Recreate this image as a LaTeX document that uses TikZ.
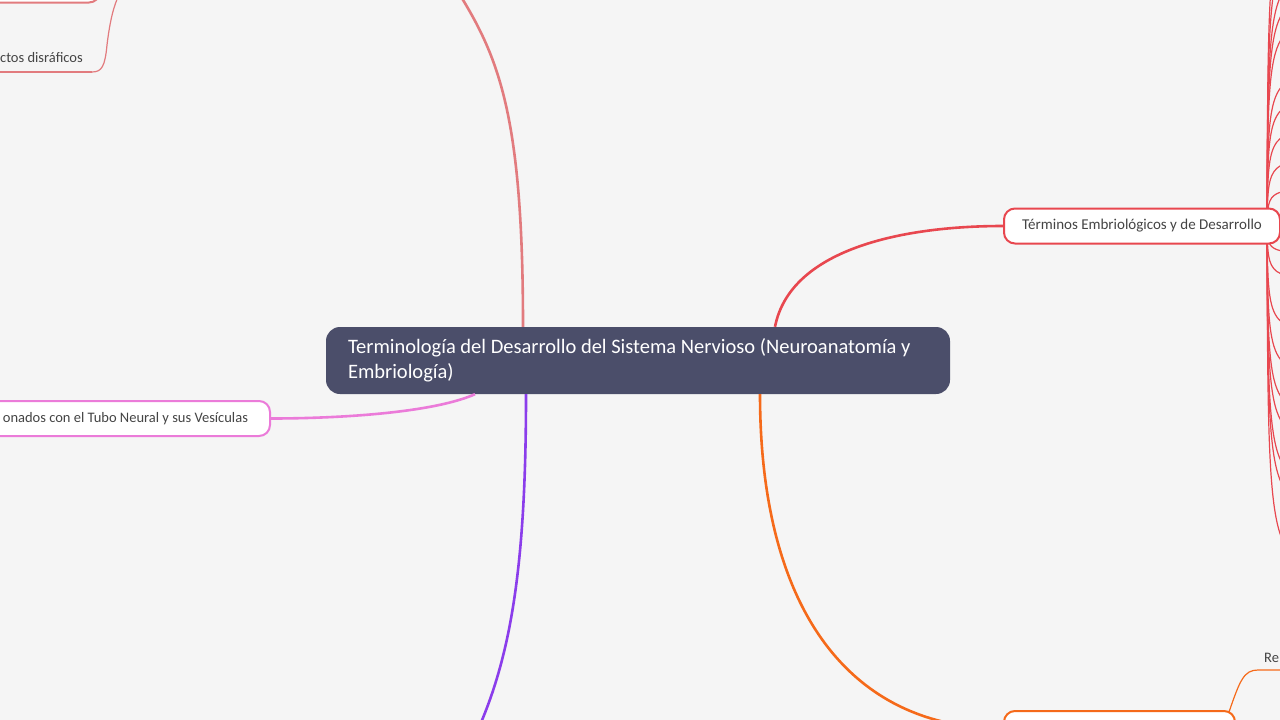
\documentclass[tikz,border=0pt]{standalone}
\usepackage{fontspec}
\setmainfont{Carlito}
\usetikzlibrary{positioning}
\definecolor{bgcol}{HTML}{F5F5F5}
\definecolor{rootcol}{HTML}{4B4E6A}
\definecolor{textgray}{HTML}{444444}
\definecolor{salmoncol}{HTML}{E27B7E}
\definecolor{pinkcol}{HTML}{EB7BD9}
\definecolor{purplecol}{HTML}{8B3DEB}
\definecolor{redcol}{HTML}{E8474F}
\definecolor{orangecol}{HTML}{F56A1A}

\begin{document}
\begin{tikzpicture}[x=1pt,y=-1pt,
root/.style={rectangle, rounded corners=14pt, fill=rootcol, text=white,
  text width=580pt, align=flush left, inner xsep=22pt, minimum height=67pt,
  font=\fontsize{20.5}{25}\selectfont},
branch/.style={rectangle, rounded corners=11pt, fill=white, line width=2pt,
  minimum height=35pt, inner xsep=18pt, text=textgray,
  font=\fontsize{15}{17}\selectfont},
leaf/.style={inner sep=0pt, text=textgray, font=\fontsize{14.5}{17}\selectfont},
link/.style={line width=2.6pt},
twig/.style={line width=1.2pt}]

\useasboundingbox (0,0) rectangle (1280,720);
\fill[bgcol] (0,0) rectangle (1280,720);

\coordinate (fan) at (1267,226);
\foreach \y in {-100,-60,-25,-3,23,75,100,130,160,189,253,278,330,372,412,438,482,505,564}
  \draw[twig, redcol] (fan) .. controls (1268,\y) and (1268,\y) .. (1340,\y);

\node[root] (root) at (638,360.5) {Terminología del Desarrollo del Sistema Nervioso (Neuroanatomía y\\Embriología)};

\node[branch, draw=redcol, minimum width=276pt] (term) at (1142,226) {Términos Embriológicos y de Desarrollo};
\node[branch, draw=pinkcol, anchor=east, text width=300pt, align=flush right, inner xsep=22pt,
  font=\fontsize{14.5}{17}\selectfont] (tubo) at (271,418.5) {onados con el Tubo Neural y sus Vesículas};
\node[branch, draw=orangecol, minimum width=231pt] (emb) at (1119.5,728.5) {};
\node[branch, draw=salmoncol, minimum width=300pt, anchor=south east] (malf) at (101,3.5) {};

\node[leaf, anchor=east] (dis) at (83,58) {ctos disráficos};
\node[leaf, anchor=south west] (re) at (1264,663) {Re};

\coordinate (top) at (460,-5);
\coordinate (bottom) at (480,725);
\coordinate (disr) at (92,72);
\coordinate (disup) at (119,-5);
\coordinate (rer) at (1258,670);

\draw[link, salmoncol] ([xshift=-115pt]root.north) .. controls (523,120) and (500,60) .. (top);
\draw[link, pinkcol] ([xshift=-163pt]root.south) .. controls (430,414) and (330,418.5) .. (tubo.east);
\draw[link, purplecol] ([xshift=-112pt]root.south) .. controls (526,560) and (512,650) .. (bottom);
\draw[link, redcol] ([xshift=137pt]root.north) .. controls (790,250) and (900,226) .. (term.west);
\draw[link, orangecol] ([xshift=122pt]root.south) .. controls (760,610) and (850,728.5) .. (emb.west);

\draw[twig, salmoncol] (disr) -- ++(-100,0);
\draw[twig, salmoncol] (disr) .. controls (102,72) and (105,66) .. (107,45) .. controls (110,20) and (114,5) .. (disup);
\draw[twig, orangecol] ([xshift=-7pt,yshift=-2pt]emb.north east) .. controls (1240,680) and (1244,670) .. (rer) -- ++(30,0);

\end{tikzpicture}
\end{document}
